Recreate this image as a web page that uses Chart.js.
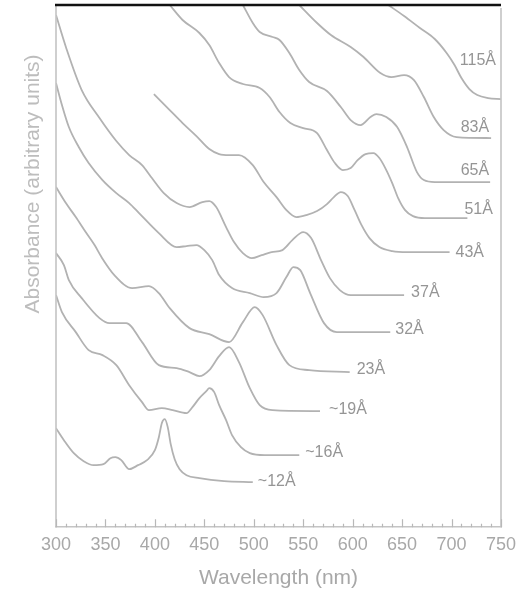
<!DOCTYPE html>
<html>
<head>
<meta charset="utf-8">
<script src="https://cdn.jsdelivr.net/npm/chart.js@4.4.1/dist/chart.umd.min.js"></script>
<style>
  html, body { margin: 0; padding: 0; background: #fff; }
  #wrap { width: 528px; height: 591px; position: relative; }
</style>
</head>
<body>
<div id="wrap"><canvas id="c" width="528" height="591"></canvas></div>
<script>
// Absorption spectra of nanocrystals of different diameters, vertically offset.
// Each series: [wavelength (nm), absorbance (arbitrary units, offset included)]
const sizeLabels = ['115Å', '83Å', '65Å', '51Å', '43Å', '37Å', '32Å', '23Å', '~19Å', '~16Å', '~12Å'];

const s115 = [[636,522],[652,511],[668,499],[683,488],[695,474],[703,462],[710,449],[718,438],[726,432],[737,429],[750,428]];
const s83 = [[546,522],[564,504],[578,492],[598,480],[611,470],[628,454],[639,450],[652,452],[662,447],[672,430],[682,410],[692,397],[705,390],[740,389]];
const s65 = [[489,522],[499,504],[506,495],[519,490],[526,487],[536,474],[546,457],[556,445],[574,436],[588,420],[598,407],[608,402],[618,410],[624,413],[634,410],[645,400],[655,380],[665,355],[672,347],[683,345],[739,345]];
const s51 = [[415,522],[428,507],[445,494],[455,482],[465,464],[475,450],[489,443],[506,439],[516,430],[526,415],[537,404],[550,399],[564,394],[574,377],[582,364],[590,357],[598,359],[605,367],[613,373],[621,374],[627,369],[633,359],[640,344],[646,329],[653,317],[661,311],[673,309],[716,309]];
const s43 = [[399,433],[415,417],[428,404],[442,391],[455,378],[465,373],[475,372],[485,372],[499,362],[510,345],[523,330],[533,317],[543,310],[553,312],[564,316],[574,323],[581,330],[588,335],[595,331],[602,317],[609,302],[617,289],[627,280],[640,276],[655,275],[698,275]];
const s37 = [[300,512],[310,480],[326,437],[344,409],[361,386],[374,372],[387,362],[397,349],[409,334],[422,324],[435,320],[448,325],[455,326],[462,320],[472,300],[480,285],[489,274],[498,269],[508,272],[518,275],[529,277],[539,287],[550,295],[558,289],[568,267],[577,249],[587,237],[598,232],[652,232]];
const s32 = [[300,444],[306,422],[313,400],[323,380],[333,364],[347,347],[361,334],[374,324],[384,314],[404,294],[422,280],[432,281],[442,282],[450,277],[458,267],[465,252],[478,239],[496,234],[510,230],[523,234],[533,250],[540,260],[547,257],[557,234],[571,204],[584,195],[638,195]];
const s23 = [[300,340],[310,324],[320,310],[330,295],[339,282],[346,270],[359,252],[377,239],[394,241],[404,234],[415,219],[435,199],[455,193],[475,185],[489,205],[501,220],[509,212],[523,182],[536,162],[556,157],[597,155]];
const s19 = [[300,274],[308,262],[313,247],[326,229],[344,209],[354,204],[371,204],[387,185],[404,162],[422,159],[435,155],[445,151],[455,157],[465,171],[475,180],[485,165],[496,139],[506,122],[519,117],[567,116]];
const s16 = [[300,232],[306,215],[320,195],[333,177],[347,172],[361,162],[374,142],[387,125],[394,117],[407,119],[418,117],[432,114],[438,120],[445,129],[452,136],[455,139],[460,135],[465,122],[472,107],[478,92],[487,80],[496,74],[511,72],[546,72]];
const s12 = [[300,99],[308,87],[318,74],[328,66],[338,62],[348,63],[355,69],[360,70],[366,67],[374,58],[383,62],[392,67],[400,77],[404,90],[407,104],[410,108],[413,100],[416,83],[420,68],[425,58],[432,52],[445,49],[470,46],[499,45]];

const seriesList = [s115, s83, s65, s51, s43, s37, s32, s23, s19, s16, s12];

// label placement relative to the end of each trace (pixels)
const labelPlacement = [
  { align: 'right', dx: -5, dy: -38 },
  { align: 'right', dx: -2, dy: -10 },
  { align: 'right', dx: -1, dy: -11 },
  { align: 'left',  dx: -3, dy: -8 },
  { align: 'left',  dx: 6,  dy: 0 },
  { align: 'left',  dx: 7,  dy: -3 },
  { align: 'left',  dx: 5,  dy: -3 },
  { align: 'left',  dx: 7,  dy: -3 },
  { align: 'left',  dx: 9,  dy: -2 },
  { align: 'left',  dx: 6,  dy: -3 },
  { align: 'left',  dx: 5,  dy: -1 }
];

const FONT = '"Liberation Sans", Arial, Helvetica, sans-serif';

const datasets = seriesList.map((s, i) => ({
  label: sizeLabels[i],
  data: s.map(p => ({ x: p[0], y: p[1] })),
  borderColor: '#b2b2b2',
  borderWidth: 1.8,
  pointRadius: 0,
  fill: false,
  cubicInterpolationMode: 'monotone'
}));

const framePlugin = {
  id: 'frame',
  afterDraw(chart) {
    const { ctx, chartArea: a, scales } = chart;
    const xs = scales.x;
    ctx.save();
    // side axes
    ctx.strokeStyle = '#c4c4c4';
    ctx.lineWidth = 1.6;
    ctx.beginPath();
    ctx.moveTo(a.left, a.top);
    ctx.lineTo(a.left, a.bottom);
    ctx.moveTo(a.right, a.top + 3);
    ctx.lineTo(a.right, a.bottom);
    ctx.stroke();
    // top rule
    ctx.strokeStyle = '#111';
    ctx.lineWidth = 2.5;
    ctx.beginPath();
    ctx.moveTo(a.left - 1, a.top);
    ctx.lineTo(a.right, a.top);
    ctx.stroke();
    // inward tick marks every 10 nm
    ctx.strokeStyle = '#b8b8b8';
    ctx.lineWidth = 1.2;
    ctx.beginPath();
    for (let nm = 300; nm <= 750; nm += 10) {
      const px = Math.round(xs.getPixelForValue(nm)) + 0.5;
      const len = nm % 50 === 0 ? 8 : 3.5;
      ctx.moveTo(px, a.bottom);
      ctx.lineTo(px, a.bottom - len);
    }
    ctx.stroke();
    // y title
    ctx.translate(33, 184);
    ctx.rotate(-Math.PI / 2);
    ctx.font = '21px ' + FONT;
    ctx.fillStyle = '#bdbdbd';
    ctx.textAlign = 'center';
    ctx.textBaseline = 'middle';
    ctx.fillText('Absorbance (arbitrary units)', 0, 0);
    ctx.restore();

    // size labels at the end of each trace
    ctx.save();
    ctx.font = '16px ' + FONT;
    ctx.fillStyle = '#959595';
    ctx.textBaseline = 'middle';
    chart.data.datasets.forEach((ds, i) => {
      const meta = chart.getDatasetMeta(i);
      const last = meta.data[meta.data.length - 1];
      const lp = labelPlacement[i];
      ctx.textAlign = lp.align;
      ctx.fillText(ds.label, last.x + lp.dx, last.y + lp.dy);
    });
    ctx.restore();
  }
};

new Chart(document.getElementById('c'), {
  type: 'line',
  data: { datasets },
  plugins: [framePlugin],
  options: {
    responsive: false,
    animation: false,
    devicePixelRatio: 1,
    layout: { padding: { left: 56, right: 27, top: 5, bottom: 0 } },
    plugins: { legend: { display: false }, tooltip: { enabled: false } },
    scales: {
      x: {
        type: 'linear',
        min: 300,
        max: 750,
        grid: { display: false, drawTicks: false },
        border: { display: true, color: '#c4c4c4', width: 1.6 },
        ticks: {
          stepSize: 50,
          color: '#a8a8a8',
          font: { family: FONT, size: 18 },
          padding: 7,
          maxRotation: 0,
          autoSkip: false
        },
        title: {
          display: true,
          text: 'Wavelength (nm)',
          color: '#a8a8a8',
          font: { family: FONT, size: 21 },
          padding: { top: 3, bottom: 0 }
        }
      },
      y: { type: 'linear', min: 0, max: 522, display: false }
    }
  }
});
</script>
</body>
</html>
